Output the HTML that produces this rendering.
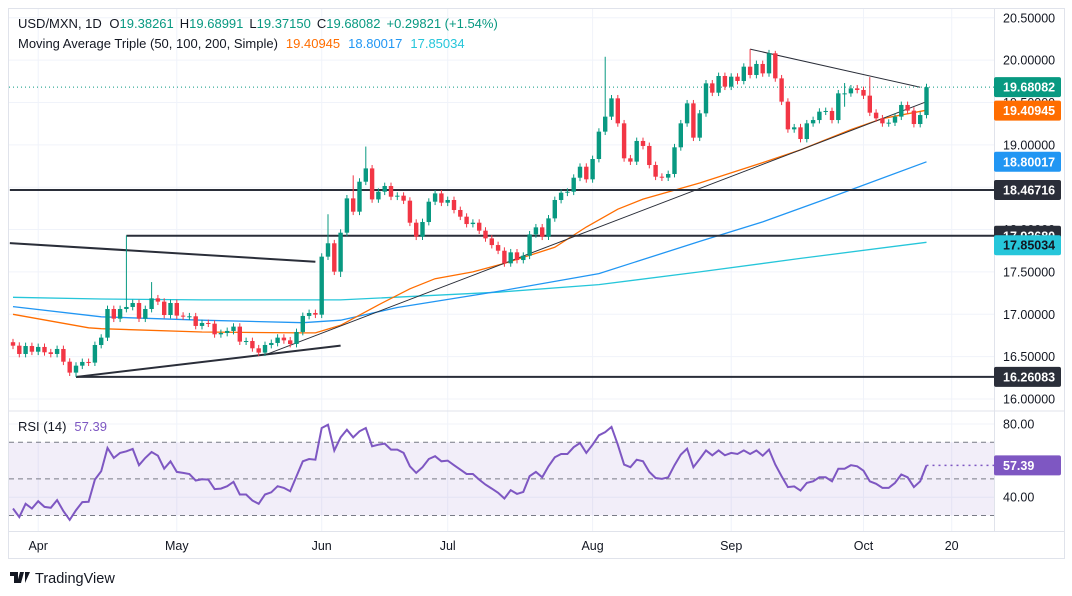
<!DOCTYPE html>
<html><head><meta charset="utf-8">
<style>
body{margin:0;background:#fff;width:1072px;height:596px;overflow:hidden;font-family:"Liberation Sans",sans-serif;}
svg{position:absolute;left:0;top:0}
</style></head>
<body>
<svg id="c" width="1072" height="596" xmlns="http://www.w3.org/2000/svg"></svg>
<script>
const closes=[16.629,16.531,16.625,16.558,16.614,16.551,16.531,16.590,16.440,16.311,16.393,16.437,16.429,16.637,16.724,17.062,16.948,17.062,17.086,17.133,16.948,17.062,17.188,17.149,16.991,17.133,16.984,16.972,16.976,16.862,16.897,16.889,16.763,16.779,16.803,16.854,16.677,16.684,16.598,16.547,16.637,16.661,16.724,16.692,16.649,16.791,16.980,17.015,16.995,17.680,17.838,17.503,
17.963,18.368,18.211,18.565,18.722,18.356,18.447,18.514,18.388,18.400,18.341,18.081,17.916,18.089,18.329,18.427,18.317,18.349,18.231,18.152,18.065,18.081,17.987,17.896,17.817,17.750,17.601,17.731,17.640,17.691,17.943,18.026,17.916,18.132,18.349,18.435,18.447,18.612,18.742,18.593,18.833,
19.156,19.333,19.549,19.254,18.841,18.802,19.046,18.987,18.762,18.624,18.613,18.656,18.971,19.254,19.490,19.085,19.372,19.726,19.616,19.813,19.687,19.805,19.754,19.923,19.825,19.955,19.844,20.081,19.785,19.510,19.183,19.207,19.069,19.254,19.293,19.392,19.400,19.293,19.608,19.608,19.667,19.648,19.581,19.380,19.313,19.254,19.262,19.333,19.471,19.404,19.246,19.352,19.681];
const firstOpen=16.67;
const spikeDays=[10,18,22,50,52,54,56,94,117,121,132,136];
const spikeHighs=[null,17.93,17.38,18.18,null,18.64,18.98,20.04,20.13,20.11,19.73,19.80];
const spikeLows=[16.26,null,null,null,17.44,null,null,null,null,null,19.45,null];
const rsi=[33.8,29.1,36.4,33.8,37.8,34.7,34.2,38.4,32.4,27.6,32.9,37.3,37.5,49.6,54.2,66.9,61.5,64.2,65.1,66.4,57.5,61.5,64.7,62.7,55.6,59.6,53.8,53.3,52.7,49.1,49.8,49.6,44.4,44.7,46.0,48.4,41.5,41.5,38.2,36.4,41.5,42.7,46.0,45.1,43.3,51.5,59.6,60.9,60.5,77.8,79.6,65.5,72.7,76.9,72.7,76.0,77.8,67.8,68.7,69.3,66.0,66.0,64.2,56.9,53.3,56.4,60.9,62.4,59.6,60.0,57.5,55.1,52.7,52.7,49.6,46.9,44.7,42.4,
39.3,43.8,41.8,42.9,51.5,53.8,50.9,56.9,61.8,63.6,63.6,67.3,69.6,64.2,68.7,73.8,75.6,78.4,68.7,57.8,56.4,60.5,59.6,53.8,50.5,50.0,50.9,57.5,63.3,66.5,56.4,60.9,65.6,62.9,65.6,62.9,64.2,63.6,65.6,63.6,65.5,62.7,66.0,57.8,51.5,45.5,45.9,43.6,47.8,48.7,50.9,50.9,48.7,55.6,55.6,57.5,56.9,54.5,48.7,47.3,45.1,45.1,47.8,52.4,50.9,45.5,48.7,57.39];
const ma50Days=[0,12,14,30,46,48,52,58,63,67,73,78,86,91,96,100,109,119,125,133,138,145];
const ma50Vals=[17.00,16.84,16.83,16.79,16.78,16.78,16.87,17.11,17.30,17.42,17.50,17.60,17.79,18.03,18.24,18.36,18.55,18.79,18.94,19.18,19.31,19.409];
const ma100Days=[0,14,30,46,52,61,77,93,109,119,129,145];
const ma100Vals=[17.09,16.97,16.93,16.90,16.93,17.08,17.27,17.48,17.86,18.09,18.36,18.80];
const ma200Days=[0,14,30,52,77,93,109,125,145];
const ma200Vals=[17.20,17.18,17.17,17.17,17.26,17.35,17.50,17.66,17.85];
const priceTicks=[20.5,20.0,19.5,19.0,18.5,18.0,17.5,17.0,16.5,16.0];
const monthLabels=["Apr","May","Jun","Jul","Aug","Sep","Oct","20"];
const monthDays=[4,26,49,69,92,114,135,149];
const rsiTicks=[80,40];

const S=document.getElementById('c');const NS='http://www.w3.org/2000/svg';
function X(i){return 13+6.3*i;}
function Y(p){return 190+(18.467-p)*84.7;}
function R(v){return 424+(80-v)*1.83;}
function el(t,a,parent){const e=document.createElementNS(NS,t);for(const k in a)e.setAttribute(k,a[k]);(parent||S).appendChild(e);return e;}
function tx(x,y,s,a,parent){const e=el('text',Object.assign({x:x,y:y},a),parent);e.textContent=s;return e;}

// frame
let f=el('rect',{x:8.5,y:8.5,width:1056,height:550,fill:'#fff',stroke:'#e0e3eb'});

// grid
priceTicks.forEach(p=>{let g=el('line',{x1:9,x2:994,y1:Y(p),y2:Y(p),stroke:'#f0f3fa'});
});
rsiTicks.forEach(v=>{let g=el('line',{x1:9,x2:994,y1:R(v),y2:R(v),stroke:'#f0f3fa'});
});
monthDays.forEach(d=>{let g=el('line',{x1:X(d),x2:X(d),y1:9,y2:531,stroke:'#f0f3fa'});
});
// separators
let s1=el('line',{x1:994.5,x2:994.5,y1:9,y2:531,stroke:'#e0e3eb'});
let s2=el('line',{x1:9,x2:1064,y1:411,y2:411,stroke:'#e0e3eb'});
let s3=el('line',{x1:9,x2:1064,y1:531.5,y2:531.5,stroke:'#e0e3eb'});

// RSI band
let band=el('rect',{x:9,y:R(70),width:985,height:R(30)-R(70),fill:'#7e57c2','fill-opacity':0.1});

[70,50,30].forEach(v=>{let l=el('line',{x1:9,x2:994,y1:R(v),y2:R(v),stroke:'#787b86','stroke-dasharray':'5,4'});
});

// MAs
function maPath(days,vals,col,name){let d=days.map((k,i)=>(i?'L':'M')+X(k).toFixed(1)+','+Y(vals[i]).toFixed(1)).join(' ');
let p=el('path',{d:d,fill:'none',stroke:col,'stroke-width':1.3});}
maPath(ma200Days,ma200Vals,'#26c6da','ma200-line');
maPath(ma100Days,ma100Vals,'#2196f3','ma100-line');
maPath(ma50Days,ma50Vals,'#ff6d00','ma50-line');

// drawings
function ln(k1,p1,k2,p2,w,name){let l=el('line',{x1:X(k1),y1:Y(p1),x2:X(k2),y2:Y(p2),stroke:'#2a2e39','stroke-width':w});
}
ln(-0.5,18.467,156.5,18.467,2,'support-18-467');
ln(18,17.9268,156.5,17.9268,2,'support-17-927');
ln(10,16.2608,156.5,16.2608,2,'support-16-261');
ln(-0.5,17.84,48,17.62,2,'resistance-trendline');
ln(10,16.26,52,16.63,2,'rising-trendline-apr');
ln(40,16.52,145,19.51,1,'rising-trendline');
ln(117,20.13,144,19.68,1,'descending-trendline');
let dl=el('line',{x1:9,x2:994,y1:Y(19.681),y2:Y(19.681),stroke:'#089981','stroke-dasharray':'1,3'});


// candles
closes.forEach((c,i)=>{
 const o=i?closes[i-1]:firstOpen;
 let hi=Math.max(o,c)+0.04, lo=Math.min(o,c)-0.04;
 const si=spikeDays.indexOf(i);
 if(si>=0){if(spikeHighs[si]!==null)hi=spikeHighs[si];if(spikeLows[si]!==null)lo=spikeLows[si];}
 const col=c>=o?'#089981':'#f23645';const x=X(i);
 const g=el('g',{});
 el('line',{x1:x,x2:x,y1:Y(hi),y2:Y(lo),stroke:col,'stroke-width':1},g);
 const t=Y(Math.max(o,c)),b=Y(Math.min(o,c));
 el('rect',{x:x-2.2,y:t,width:4.4,height:Math.max(1,b-t),fill:col},g);
});

// RSI line
let rp=el('path',{d:rsi.map((v,i)=>(i?'L':'M')+X(i).toFixed(1)+','+R(v).toFixed(1)).join(' '),fill:'none',stroke:'#7e57c2','stroke-width':2});

let rl=el('line',{x1:X(rsi.length-1),x2:994,y1:R(rsi[rsi.length-1]),y2:R(rsi[rsi.length-1]),stroke:'#7e57c2','stroke-dasharray':'2,4','stroke-width':1.5});


// axis labels
priceTicks.forEach(p=>{let t=tx(1003,Y(p)+4.5,p.toFixed(5),{'font-size':12.5,fill:'#131722'});
});
rsiTicks.forEach(v=>{let t=tx(1003,R(v)+4.5,v.toFixed(2),{'font-size':12.5,fill:'#131722'});
});
monthLabels.forEach((m,i)=>{let t=tx(X(monthDays[i]),550,m,{'font-size':12.5,fill:'#131722','text-anchor':'middle'});
});

// price tags
function tag(y,s,bg,fg,name){const g=el('g',{});
el('rect',{x:994,y:y-10,width:67,height:20,rx:2,fill:bg},g);tx(1003,y+4.5,s,{'font-size':12.5,fill:fg,'font-weight':'bold'},g);}
tag(Y(19.681),'19.68082','#089981','#fff','last-price-tag');
tag(Y(19.40945)+0.5,'19.40945','#ff6d00','#fff','ma50-tag');
tag(Y(18.80017),'18.80017','#2196f3','#fff','ma100-tag');
tag(Y(18.46716),'18.46716','#2a2e39','#fff','level-tag-18-467');
tag(Y(17.9268),'17.92680','#2a2e39','#fff','level-tag-17-927');
tag(Y(17.85034)+3,'17.85034','#26c6da','#131722','ma200-tag');
tag(Y(16.26083),'16.26083','#2a2e39','#fff','level-tag-16-261');
tag(R(57.39),'57.39','#7e57c2','#fff','rsi-value-tag');

// legends
let l1=tx(18,28,'',{'font-size':13,fill:'#131722'});
l1.innerHTML='USD/MXN, 1D <tspan dx="4">O</tspan><tspan fill="#089981">19.38261</tspan><tspan dx="6">H</tspan><tspan fill="#089981">19.68991</tspan><tspan dx="6">L</tspan><tspan fill="#089981">19.37150</tspan><tspan dx="6">C</tspan><tspan fill="#089981">19.68082</tspan><tspan dx="6" fill="#089981">+0.29821 (+1.54%)</tspan>';
let l2=tx(18,48,'',{'font-size':13,fill:'#131722'});
l2.innerHTML='Moving Average Triple (50, 100, 200, Simple)<tspan dx="8" fill="#ff6d00">19.40945</tspan><tspan dx="8" fill="#2196f3">18.80017</tspan><tspan dx="8" fill="#26c6da">17.85034</tspan>';
let l3=tx(18,431,'',{'font-size':13,fill:'#131722'});
l3.innerHTML='RSI (14)<tspan dx="8" fill="#7e57c2">57.39</tspan>';

// logo
const lg=el('g',{});
el('path',{d:'M10 572h8v11h-4v-7h-4z M20 572h4l-3 11h-4z M25 572h5l-5 11z',fill:'#131722'},lg);
tx(35,583,'TradingView',{'font-size':14.5,fill:'#131722'},lg);
</script>
</body></html>
